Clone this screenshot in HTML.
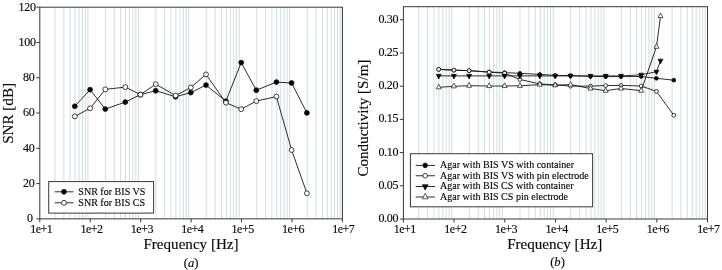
<!DOCTYPE html>
<html><head><meta charset="utf-8"><title>Figure</title>
<style>
html,body{margin:0;padding:0;background:#fff;}
body{width:722px;height:270px;overflow:hidden;}
svg{display:block;will-change:transform;}
text{font-family:"Liberation Serif",serif;fill:#0a0a0a;stroke:#0a0a0a;stroke-width:0.15px;}
.tk{font-size:12px;letter-spacing:-0.3px;}
.xt{letter-spacing:-0.5px;}
.lg{font-size:10.05px;}
.al{font-size:15.1px;}
.cp{font-size:12.6px;}
</style></head><body>
<svg width="722" height="270" viewBox="0 0 722 270">
<rect width="722" height="270" fill="#fff"/>
<g stroke="#d2dede" stroke-width="1"><line x1="54.98" y1="7.20" x2="54.98" y2="218.85"/><line x1="63.86" y1="7.20" x2="63.86" y2="218.85"/><line x1="70.16" y1="7.20" x2="70.16" y2="218.85"/><line x1="75.05" y1="7.20" x2="75.05" y2="218.85"/><line x1="79.04" y1="7.20" x2="79.04" y2="218.85"/><line x1="82.42" y1="7.20" x2="82.42" y2="218.85"/><line x1="85.35" y1="7.20" x2="85.35" y2="218.85"/><line x1="87.93" y1="7.20" x2="87.93" y2="218.85"/><line x1="105.42" y1="7.20" x2="105.42" y2="218.85"/><line x1="114.30" y1="7.20" x2="114.30" y2="218.85"/><line x1="120.60" y1="7.20" x2="120.60" y2="218.85"/><line x1="125.48" y1="7.20" x2="125.48" y2="218.85"/><line x1="129.48" y1="7.20" x2="129.48" y2="218.85"/><line x1="132.85" y1="7.20" x2="132.85" y2="218.85"/><line x1="135.78" y1="7.20" x2="135.78" y2="218.85"/><line x1="138.36" y1="7.20" x2="138.36" y2="218.85"/><line x1="155.85" y1="7.20" x2="155.85" y2="218.85"/><line x1="164.73" y1="7.20" x2="164.73" y2="218.85"/><line x1="171.03" y1="7.20" x2="171.03" y2="218.85"/><line x1="175.92" y1="7.20" x2="175.92" y2="218.85"/><line x1="179.91" y1="7.20" x2="179.91" y2="218.85"/><line x1="183.29" y1="7.20" x2="183.29" y2="218.85"/><line x1="186.21" y1="7.20" x2="186.21" y2="218.85"/><line x1="188.79" y1="7.20" x2="188.79" y2="218.85"/><line x1="206.28" y1="7.20" x2="206.28" y2="218.85"/><line x1="215.16" y1="7.20" x2="215.16" y2="218.85"/><line x1="221.46" y1="7.20" x2="221.46" y2="218.85"/><line x1="226.35" y1="7.20" x2="226.35" y2="218.85"/><line x1="230.34" y1="7.20" x2="230.34" y2="218.85"/><line x1="233.72" y1="7.20" x2="233.72" y2="218.85"/><line x1="236.65" y1="7.20" x2="236.65" y2="218.85"/><line x1="239.23" y1="7.20" x2="239.23" y2="218.85"/><line x1="256.72" y1="7.20" x2="256.72" y2="218.85"/><line x1="265.60" y1="7.20" x2="265.60" y2="218.85"/><line x1="271.90" y1="7.20" x2="271.90" y2="218.85"/><line x1="276.78" y1="7.20" x2="276.78" y2="218.85"/><line x1="280.78" y1="7.20" x2="280.78" y2="218.85"/><line x1="284.15" y1="7.20" x2="284.15" y2="218.85"/><line x1="287.08" y1="7.20" x2="287.08" y2="218.85"/><line x1="289.66" y1="7.20" x2="289.66" y2="218.85"/><line x1="307.15" y1="7.20" x2="307.15" y2="218.85"/><line x1="316.03" y1="7.20" x2="316.03" y2="218.85"/><line x1="322.33" y1="7.20" x2="322.33" y2="218.85"/><line x1="327.22" y1="7.20" x2="327.22" y2="218.85"/><line x1="331.21" y1="7.20" x2="331.21" y2="218.85"/><line x1="334.59" y1="7.20" x2="334.59" y2="218.85"/><line x1="337.51" y1="7.20" x2="337.51" y2="218.85"/><line x1="340.09" y1="7.20" x2="340.09" y2="218.85"/></g>
<g stroke="#d2dede" stroke-width="1"><line x1="418.66" y1="6.70" x2="418.66" y2="219.00"/><line x1="427.58" y1="6.70" x2="427.58" y2="219.00"/><line x1="433.91" y1="6.70" x2="433.91" y2="219.00"/><line x1="438.83" y1="6.70" x2="438.83" y2="219.00"/><line x1="442.84" y1="6.70" x2="442.84" y2="219.00"/><line x1="446.23" y1="6.70" x2="446.23" y2="219.00"/><line x1="449.17" y1="6.70" x2="449.17" y2="219.00"/><line x1="451.76" y1="6.70" x2="451.76" y2="219.00"/><line x1="469.34" y1="6.70" x2="469.34" y2="219.00"/><line x1="478.27" y1="6.70" x2="478.27" y2="219.00"/><line x1="484.60" y1="6.70" x2="484.60" y2="219.00"/><line x1="489.51" y1="6.70" x2="489.51" y2="219.00"/><line x1="493.52" y1="6.70" x2="493.52" y2="219.00"/><line x1="496.92" y1="6.70" x2="496.92" y2="219.00"/><line x1="499.85" y1="6.70" x2="499.85" y2="219.00"/><line x1="502.45" y1="6.70" x2="502.45" y2="219.00"/><line x1="520.02" y1="6.70" x2="520.02" y2="219.00"/><line x1="528.95" y1="6.70" x2="528.95" y2="219.00"/><line x1="535.28" y1="6.70" x2="535.28" y2="219.00"/><line x1="540.19" y1="6.70" x2="540.19" y2="219.00"/><line x1="544.21" y1="6.70" x2="544.21" y2="219.00"/><line x1="547.60" y1="6.70" x2="547.60" y2="219.00"/><line x1="550.54" y1="6.70" x2="550.54" y2="219.00"/><line x1="553.13" y1="6.70" x2="553.13" y2="219.00"/><line x1="570.71" y1="6.70" x2="570.71" y2="219.00"/><line x1="579.63" y1="6.70" x2="579.63" y2="219.00"/><line x1="585.96" y1="6.70" x2="585.96" y2="219.00"/><line x1="590.88" y1="6.70" x2="590.88" y2="219.00"/><line x1="594.89" y1="6.70" x2="594.89" y2="219.00"/><line x1="598.28" y1="6.70" x2="598.28" y2="219.00"/><line x1="601.22" y1="6.70" x2="601.22" y2="219.00"/><line x1="603.81" y1="6.70" x2="603.81" y2="219.00"/><line x1="621.39" y1="6.70" x2="621.39" y2="219.00"/><line x1="630.32" y1="6.70" x2="630.32" y2="219.00"/><line x1="636.65" y1="6.70" x2="636.65" y2="219.00"/><line x1="641.56" y1="6.70" x2="641.56" y2="219.00"/><line x1="645.57" y1="6.70" x2="645.57" y2="219.00"/><line x1="648.97" y1="6.70" x2="648.97" y2="219.00"/><line x1="651.90" y1="6.70" x2="651.90" y2="219.00"/><line x1="654.50" y1="6.70" x2="654.50" y2="219.00"/><line x1="672.07" y1="6.70" x2="672.07" y2="219.00"/><line x1="681.00" y1="6.70" x2="681.00" y2="219.00"/><line x1="687.33" y1="6.70" x2="687.33" y2="219.00"/><line x1="692.24" y1="6.70" x2="692.24" y2="219.00"/><line x1="696.26" y1="6.70" x2="696.26" y2="219.00"/><line x1="699.65" y1="6.70" x2="699.65" y2="219.00"/><line x1="702.59" y1="6.70" x2="702.59" y2="219.00"/><line x1="705.18" y1="6.70" x2="705.18" y2="219.00"/></g>
<rect x="39.8" y="7.2" width="302.60" height="211.65" fill="none" stroke="#383838" stroke-width="1"/><line x1="39.80" y1="218.85" x2="39.80" y2="222.35" stroke="#383838" stroke-width="1"/><text x="41.20" y="232.60" text-anchor="middle" class="tk xt">1e+1</text><line x1="90.23" y1="218.85" x2="90.23" y2="222.35" stroke="#383838" stroke-width="1"/><text x="91.55" y="232.60" text-anchor="middle" class="tk xt">1e+2</text><line x1="140.67" y1="218.85" x2="140.67" y2="222.35" stroke="#383838" stroke-width="1"/><text x="141.91" y="232.60" text-anchor="middle" class="tk xt">1e+3</text><line x1="191.10" y1="218.85" x2="191.10" y2="222.35" stroke="#383838" stroke-width="1"/><text x="192.26" y="232.60" text-anchor="middle" class="tk xt">1e+4</text><line x1="241.53" y1="218.85" x2="241.53" y2="222.35" stroke="#383838" stroke-width="1"/><text x="242.61" y="232.60" text-anchor="middle" class="tk xt">1e+5</text><line x1="291.97" y1="218.85" x2="291.97" y2="222.35" stroke="#383838" stroke-width="1"/><text x="292.97" y="232.60" text-anchor="middle" class="tk xt">1e+6</text><line x1="342.40" y1="218.85" x2="342.40" y2="222.35" stroke="#383838" stroke-width="1"/><text x="343.32" y="232.60" text-anchor="middle" class="tk xt">1e+7</text><line x1="36.30" y1="218.85" x2="39.80" y2="218.85" stroke="#383838" stroke-width="1"/><text x="32.80" y="222.25" text-anchor="end" class="tk">0</text><line x1="36.30" y1="183.57" x2="39.80" y2="183.57" stroke="#383838" stroke-width="1"/><text x="34.40" y="186.97" text-anchor="end" class="tk">20</text><line x1="36.30" y1="148.30" x2="39.80" y2="148.30" stroke="#383838" stroke-width="1"/><text x="34.40" y="151.70" text-anchor="end" class="tk">40</text><line x1="36.30" y1="113.02" x2="39.80" y2="113.02" stroke="#383838" stroke-width="1"/><text x="34.40" y="116.42" text-anchor="end" class="tk">60</text><line x1="36.30" y1="77.75" x2="39.80" y2="77.75" stroke="#383838" stroke-width="1"/><text x="34.40" y="81.15" text-anchor="end" class="tk">80</text><line x1="36.30" y1="42.47" x2="39.80" y2="42.47" stroke="#383838" stroke-width="1"/><text x="35.60" y="45.87" text-anchor="end" class="tk">100</text><line x1="36.30" y1="7.20" x2="39.80" y2="7.20" stroke="#383838" stroke-width="1"/><text x="35.60" y="10.60" text-anchor="end" class="tk">120</text>
<rect x="403.4" y="6.7" width="304.10" height="212.30" fill="none" stroke="#383838" stroke-width="1"/><line x1="403.40" y1="219.00" x2="403.40" y2="222.50" stroke="#383838" stroke-width="1"/><text x="404.80" y="232.75" text-anchor="middle" class="tk xt">1e+1</text><line x1="454.08" y1="219.00" x2="454.08" y2="222.50" stroke="#383838" stroke-width="1"/><text x="455.40" y="232.75" text-anchor="middle" class="tk xt">1e+2</text><line x1="504.77" y1="219.00" x2="504.77" y2="222.50" stroke="#383838" stroke-width="1"/><text x="506.01" y="232.75" text-anchor="middle" class="tk xt">1e+3</text><line x1="555.45" y1="219.00" x2="555.45" y2="222.50" stroke="#383838" stroke-width="1"/><text x="556.61" y="232.75" text-anchor="middle" class="tk xt">1e+4</text><line x1="606.13" y1="219.00" x2="606.13" y2="222.50" stroke="#383838" stroke-width="1"/><text x="607.21" y="232.75" text-anchor="middle" class="tk xt">1e+5</text><line x1="656.82" y1="219.00" x2="656.82" y2="222.50" stroke="#383838" stroke-width="1"/><text x="657.82" y="232.75" text-anchor="middle" class="tk xt">1e+6</text><line x1="707.50" y1="219.00" x2="707.50" y2="222.50" stroke="#383838" stroke-width="1"/><text x="708.42" y="232.75" text-anchor="middle" class="tk xt">1e+7</text><line x1="399.90" y1="219.00" x2="403.40" y2="219.00" stroke="#383838" stroke-width="1"/><text x="398.20" y="222.00" text-anchor="end" class="tk">0.00</text><line x1="399.90" y1="185.80" x2="403.40" y2="185.80" stroke="#383838" stroke-width="1"/><text x="398.20" y="188.80" text-anchor="end" class="tk">0.05</text><line x1="399.90" y1="152.59" x2="403.40" y2="152.59" stroke="#383838" stroke-width="1"/><text x="398.20" y="155.59" text-anchor="end" class="tk">0.10</text><line x1="399.90" y1="119.39" x2="403.40" y2="119.39" stroke="#383838" stroke-width="1"/><text x="398.20" y="122.39" text-anchor="end" class="tk">0.15</text><line x1="399.90" y1="86.19" x2="403.40" y2="86.19" stroke="#383838" stroke-width="1"/><text x="398.20" y="89.19" text-anchor="end" class="tk">0.20</text><line x1="399.90" y1="52.98" x2="403.40" y2="52.98" stroke="#383838" stroke-width="1"/><text x="398.20" y="55.98" text-anchor="end" class="tk">0.25</text><line x1="399.90" y1="19.78" x2="403.40" y2="19.78" stroke="#383838" stroke-width="1"/><text x="398.20" y="22.78" text-anchor="end" class="tk">0.30</text>
<polyline fill="none" stroke="#161616" stroke-width="0.9" points="74.80,106.30 90.10,89.70 105.30,109.10 125.30,102.10 140.40,94.60 155.70,90.80 175.60,96.70 190.80,92.60 206.00,85.10 225.90,101.20 241.20,62.60 256.30,90.20 276.40,82.10 291.60,83.00 306.90,112.90"/>
<circle cx="74.80" cy="106.30" r="2.45" fill="#000" stroke="#111" stroke-width="0.8"/><circle cx="90.10" cy="89.70" r="2.45" fill="#000" stroke="#111" stroke-width="0.8"/><circle cx="105.30" cy="109.10" r="2.45" fill="#000" stroke="#111" stroke-width="0.8"/><circle cx="125.30" cy="102.10" r="2.45" fill="#000" stroke="#111" stroke-width="0.8"/><circle cx="140.40" cy="94.60" r="2.45" fill="#000" stroke="#111" stroke-width="0.8"/><circle cx="155.70" cy="90.80" r="2.45" fill="#000" stroke="#111" stroke-width="0.8"/><circle cx="175.60" cy="96.70" r="2.45" fill="#000" stroke="#111" stroke-width="0.8"/><circle cx="190.80" cy="92.60" r="2.45" fill="#000" stroke="#111" stroke-width="0.8"/><circle cx="206.00" cy="85.10" r="2.45" fill="#000" stroke="#111" stroke-width="0.8"/><circle cx="225.90" cy="101.20" r="2.45" fill="#000" stroke="#111" stroke-width="0.8"/><circle cx="241.20" cy="62.60" r="2.45" fill="#000" stroke="#111" stroke-width="0.8"/><circle cx="256.30" cy="90.20" r="2.45" fill="#000" stroke="#111" stroke-width="0.8"/><circle cx="276.40" cy="82.10" r="2.45" fill="#000" stroke="#111" stroke-width="0.8"/><circle cx="291.60" cy="83.00" r="2.45" fill="#000" stroke="#111" stroke-width="0.8"/><circle cx="306.90" cy="112.90" r="2.45" fill="#000" stroke="#111" stroke-width="0.8"/>
<polyline fill="none" stroke="#161616" stroke-width="0.9" points="74.80,116.40 90.10,108.30 105.30,89.40 125.30,87.10 140.40,94.60 155.70,84.20 175.60,95.60 190.80,87.50 206.00,74.40 225.90,102.70 241.20,109.20 256.30,101.10 276.40,96.60 291.60,150.00 306.90,193.30"/>
<circle cx="74.80" cy="116.40" r="2.45" fill="#fff" stroke="#111" stroke-width="0.8"/><circle cx="90.10" cy="108.30" r="2.45" fill="#fff" stroke="#111" stroke-width="0.8"/><circle cx="105.30" cy="89.40" r="2.45" fill="#fff" stroke="#111" stroke-width="0.8"/><circle cx="125.30" cy="87.10" r="2.45" fill="#fff" stroke="#111" stroke-width="0.8"/><circle cx="140.40" cy="94.60" r="2.45" fill="#fff" stroke="#111" stroke-width="0.8"/><circle cx="155.70" cy="84.20" r="2.45" fill="#fff" stroke="#111" stroke-width="0.8"/><circle cx="175.60" cy="95.60" r="2.45" fill="#fff" stroke="#111" stroke-width="0.8"/><circle cx="190.80" cy="87.50" r="2.45" fill="#fff" stroke="#111" stroke-width="0.8"/><circle cx="206.00" cy="74.40" r="2.45" fill="#fff" stroke="#111" stroke-width="0.8"/><circle cx="225.90" cy="102.70" r="2.45" fill="#fff" stroke="#111" stroke-width="0.8"/><circle cx="241.20" cy="109.20" r="2.45" fill="#fff" stroke="#111" stroke-width="0.8"/><circle cx="256.30" cy="101.10" r="2.45" fill="#fff" stroke="#111" stroke-width="0.8"/><circle cx="276.40" cy="96.60" r="2.45" fill="#fff" stroke="#111" stroke-width="0.8"/><circle cx="291.60" cy="150.00" r="2.45" fill="#fff" stroke="#111" stroke-width="0.8"/><circle cx="306.90" cy="193.30" r="2.45" fill="#fff" stroke="#111" stroke-width="0.8"/>
<polyline fill="none" stroke="#161616" stroke-width="0.9" points="438.70,69.40 453.90,70.20 469.10,70.70 489.20,72.00 504.60,72.60 519.90,73.30 539.80,74.40 555.20,75.40 570.50,75.60 590.50,76.30 605.70,76.60 621.00,76.60 641.20,76.50 656.40,78.30 673.80,80.20"/>
<circle cx="438.70" cy="69.40" r="1.9" fill="#000" stroke="#111" stroke-width="0.8"/><circle cx="453.90" cy="70.20" r="1.9" fill="#000" stroke="#111" stroke-width="0.8"/><circle cx="469.10" cy="70.70" r="1.9" fill="#000" stroke="#111" stroke-width="0.8"/><circle cx="489.20" cy="72.00" r="1.9" fill="#000" stroke="#111" stroke-width="0.8"/><circle cx="504.60" cy="72.60" r="1.9" fill="#000" stroke="#111" stroke-width="0.8"/><circle cx="519.90" cy="73.30" r="1.9" fill="#000" stroke="#111" stroke-width="0.8"/><circle cx="539.80" cy="74.40" r="1.9" fill="#000" stroke="#111" stroke-width="0.8"/><circle cx="555.20" cy="75.40" r="1.9" fill="#000" stroke="#111" stroke-width="0.8"/><circle cx="570.50" cy="75.60" r="1.9" fill="#000" stroke="#111" stroke-width="0.8"/><circle cx="590.50" cy="76.30" r="1.9" fill="#000" stroke="#111" stroke-width="0.8"/><circle cx="605.70" cy="76.60" r="1.9" fill="#000" stroke="#111" stroke-width="0.8"/><circle cx="621.00" cy="76.60" r="1.9" fill="#000" stroke="#111" stroke-width="0.8"/><circle cx="641.20" cy="76.50" r="1.9" fill="#000" stroke="#111" stroke-width="0.8"/><circle cx="656.40" cy="78.30" r="1.9" fill="#000" stroke="#111" stroke-width="0.8"/><circle cx="673.80" cy="80.20" r="1.9" fill="#000" stroke="#111" stroke-width="0.8"/>
<polyline fill="none" stroke="#161616" stroke-width="0.9" points="438.70,69.30 453.90,70.10 469.10,70.60 489.20,72.20 504.60,73.10 519.90,79.50 539.80,83.90 555.20,84.90 570.50,86.10 590.50,86.10 605.70,85.60 621.00,85.40 641.20,86.00 656.40,91.40 673.80,115.30"/>
<circle cx="438.70" cy="69.30" r="1.9" fill="#fff" stroke="#111" stroke-width="0.8"/><circle cx="453.90" cy="70.10" r="1.9" fill="#fff" stroke="#111" stroke-width="0.8"/><circle cx="469.10" cy="70.60" r="1.9" fill="#fff" stroke="#111" stroke-width="0.8"/><circle cx="489.20" cy="72.20" r="1.9" fill="#fff" stroke="#111" stroke-width="0.8"/><circle cx="504.60" cy="73.10" r="1.9" fill="#fff" stroke="#111" stroke-width="0.8"/><circle cx="519.90" cy="79.50" r="1.9" fill="#fff" stroke="#111" stroke-width="0.8"/><circle cx="539.80" cy="83.90" r="1.9" fill="#fff" stroke="#111" stroke-width="0.8"/><circle cx="555.20" cy="84.90" r="1.9" fill="#fff" stroke="#111" stroke-width="0.8"/><circle cx="570.50" cy="86.10" r="1.9" fill="#fff" stroke="#111" stroke-width="0.8"/><circle cx="590.50" cy="86.10" r="1.9" fill="#fff" stroke="#111" stroke-width="0.8"/><circle cx="605.70" cy="85.60" r="1.9" fill="#fff" stroke="#111" stroke-width="0.8"/><circle cx="621.00" cy="85.40" r="1.9" fill="#fff" stroke="#111" stroke-width="0.8"/><circle cx="641.20" cy="86.00" r="1.9" fill="#fff" stroke="#111" stroke-width="0.8"/><circle cx="656.40" cy="91.40" r="1.9" fill="#fff" stroke="#111" stroke-width="0.8"/><circle cx="673.80" cy="115.30" r="1.9" fill="#fff" stroke="#111" stroke-width="0.8"/>
<polyline fill="none" stroke="#161616" stroke-width="0.9" points="438.70,75.90 453.90,75.90 469.10,75.90 489.20,75.90 504.60,75.90 519.90,75.90 539.80,75.90 555.20,75.90 570.50,75.90 590.50,76.00 605.70,75.90 621.00,75.90 641.20,74.80 656.50,71.70 660.50,60.70"/>
<path d="M438.70,79.03 L441.20,74.33 L436.20,74.33 Z" fill="#000" stroke="#111" stroke-width="0.7"/><path d="M453.90,79.03 L456.40,74.33 L451.40,74.33 Z" fill="#000" stroke="#111" stroke-width="0.7"/><path d="M469.10,79.03 L471.60,74.33 L466.60,74.33 Z" fill="#000" stroke="#111" stroke-width="0.7"/><path d="M489.20,79.03 L491.70,74.33 L486.70,74.33 Z" fill="#000" stroke="#111" stroke-width="0.7"/><path d="M504.60,79.03 L507.10,74.33 L502.10,74.33 Z" fill="#000" stroke="#111" stroke-width="0.7"/><path d="M519.90,79.03 L522.40,74.33 L517.40,74.33 Z" fill="#000" stroke="#111" stroke-width="0.7"/><path d="M539.80,79.03 L542.30,74.33 L537.30,74.33 Z" fill="#000" stroke="#111" stroke-width="0.7"/><path d="M555.20,79.03 L557.70,74.33 L552.70,74.33 Z" fill="#000" stroke="#111" stroke-width="0.7"/><path d="M570.50,79.03 L573.00,74.33 L568.00,74.33 Z" fill="#000" stroke="#111" stroke-width="0.7"/><path d="M590.50,79.13 L593.00,74.43 L588.00,74.43 Z" fill="#000" stroke="#111" stroke-width="0.7"/><path d="M605.70,79.03 L608.20,74.33 L603.20,74.33 Z" fill="#000" stroke="#111" stroke-width="0.7"/><path d="M621.00,79.03 L623.50,74.33 L618.50,74.33 Z" fill="#000" stroke="#111" stroke-width="0.7"/><path d="M641.20,77.93 L643.70,73.23 L638.70,73.23 Z" fill="#000" stroke="#111" stroke-width="0.7"/><path d="M656.50,74.83 L659.00,70.13 L654.00,70.13 Z" fill="#000" stroke="#111" stroke-width="0.7"/><path d="M660.50,63.83 L663.00,59.13 L658.00,59.13 Z" fill="#000" stroke="#111" stroke-width="0.7"/>
<polyline fill="none" stroke="#161616" stroke-width="0.9" points="438.70,87.30 453.90,86.30 469.10,85.70 489.20,86.00 504.60,86.00 519.90,85.80 539.80,84.60 555.20,85.20 570.50,84.60 590.50,88.50 605.70,90.70 621.00,88.50 641.20,90.70 656.50,46.70 660.50,16.10"/>
<path d="M438.70,84.17 L441.20,88.87 L436.20,88.87 Z" fill="#fff" stroke="#111" stroke-width="0.7"/><path d="M453.90,83.17 L456.40,87.87 L451.40,87.87 Z" fill="#fff" stroke="#111" stroke-width="0.7"/><path d="M469.10,82.57 L471.60,87.27 L466.60,87.27 Z" fill="#fff" stroke="#111" stroke-width="0.7"/><path d="M489.20,82.87 L491.70,87.57 L486.70,87.57 Z" fill="#fff" stroke="#111" stroke-width="0.7"/><path d="M504.60,82.87 L507.10,87.57 L502.10,87.57 Z" fill="#fff" stroke="#111" stroke-width="0.7"/><path d="M519.90,82.67 L522.40,87.37 L517.40,87.37 Z" fill="#fff" stroke="#111" stroke-width="0.7"/><path d="M539.80,81.47 L542.30,86.17 L537.30,86.17 Z" fill="#fff" stroke="#111" stroke-width="0.7"/><path d="M555.20,82.07 L557.70,86.77 L552.70,86.77 Z" fill="#fff" stroke="#111" stroke-width="0.7"/><path d="M570.50,81.47 L573.00,86.17 L568.00,86.17 Z" fill="#fff" stroke="#111" stroke-width="0.7"/><path d="M590.50,85.37 L593.00,90.07 L588.00,90.07 Z" fill="#fff" stroke="#111" stroke-width="0.7"/><path d="M605.70,87.57 L608.20,92.27 L603.20,92.27 Z" fill="#fff" stroke="#111" stroke-width="0.7"/><path d="M621.00,85.37 L623.50,90.07 L618.50,90.07 Z" fill="#fff" stroke="#111" stroke-width="0.7"/><path d="M641.20,87.57 L643.70,92.27 L638.70,92.27 Z" fill="#fff" stroke="#111" stroke-width="0.7"/><path d="M656.50,43.57 L659.00,48.27 L654.00,48.27 Z" fill="#fff" stroke="#111" stroke-width="0.7"/><path d="M660.50,12.97 L663.00,17.67 L658.00,17.67 Z" fill="#fff" stroke="#111" stroke-width="0.7"/>
<rect x="48.7" y="181.6" width="104.90" height="31.50" fill="#fff" stroke="#383838" stroke-width="1"/><line x1="54.6" y1="191.8" x2="73.5" y2="191.8" stroke="#161616" stroke-width="0.9"/><circle cx="64.00" cy="191.80" r="2.45" fill="#000" stroke="#111" stroke-width="0.8"/><text x="78.3" y="195.10" class="lg">SNR for BIS VS</text><line x1="54.6" y1="202.8" x2="73.5" y2="202.8" stroke="#161616" stroke-width="0.9"/><circle cx="64.00" cy="202.80" r="2.45" fill="#fff" stroke="#111" stroke-width="0.8"/><text x="78.3" y="206.10" class="lg">SNR for BIS CS</text>
<rect x="410.4" y="153.7" width="182.20" height="53.10" fill="#fff" stroke="#383838" stroke-width="1"/><line x1="415.7" y1="165.4" x2="435" y2="165.4" stroke="#161616" stroke-width="0.9"/><circle cx="425.20" cy="165.40" r="2.3" fill="#000" stroke="#111" stroke-width="0.8"/><text x="440.0" y="168.35" class="lg">Agar with BIS VS with container</text><line x1="415.7" y1="175.75" x2="435" y2="175.75" stroke="#161616" stroke-width="0.9"/><circle cx="425.20" cy="175.75" r="2.3" fill="#fff" stroke="#111" stroke-width="0.8"/><text x="440.0" y="179.05" class="lg">Agar with BIS VS with pin electrode</text><line x1="415.7" y1="186.5" x2="435" y2="186.5" stroke="#161616" stroke-width="0.9"/><path d="M425.20,190.10 L428.10,184.70 L422.30,184.70 Z" fill="#000" stroke="#111" stroke-width="0.7"/><text x="440.0" y="189.40" class="lg">Agar with BIS CS with container</text><line x1="415.7" y1="197.0" x2="435" y2="197.0" stroke="#161616" stroke-width="0.9"/><path d="M425.20,193.40 L428.10,198.80 L422.30,198.80 Z" fill="#fff" stroke="#111" stroke-width="0.7"/><text x="440.0" y="200.30" class="lg">Agar with BIS CS pin electrode</text>
<text x="191.0" y="248.8" text-anchor="middle" class="al">Frequency [Hz]</text>
<text x="554.7" y="248.8" text-anchor="middle" class="al">Frequency [Hz]</text>
<text transform="translate(13.2,113.4) rotate(-90)" text-anchor="middle" class="al">SNR [dB]</text>
<text transform="translate(368.1,118.1) rotate(-90)" text-anchor="middle" class="al">Conductivity [S/m]</text>
<text x="191.1" y="266.5" text-anchor="middle" class="cp">(<tspan font-style="italic">a</tspan>)</text>
<text x="557.5" y="266.3" text-anchor="middle" class="cp">(<tspan font-style="italic">b</tspan>)</text>
</svg>
</body></html>
